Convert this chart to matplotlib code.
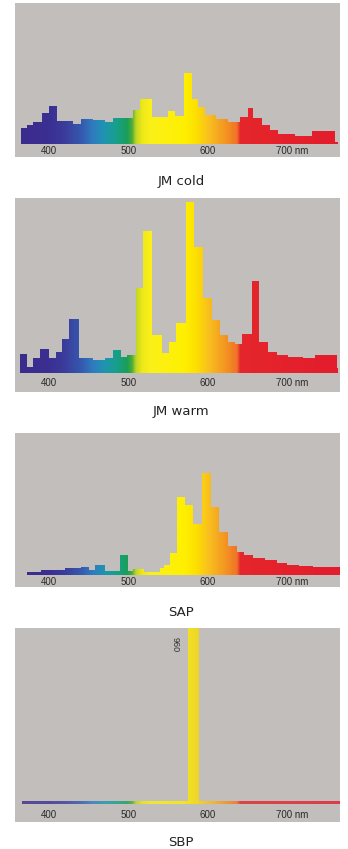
import numpy as np
import matplotlib
matplotlib.use('Agg')
import matplotlib.pyplot as plt
from matplotlib.colors import LinearSegmentedColormap

# spectra: bin edges (nm) and relative intensity per bin
cold_edges = [365, 372, 380, 391, 400, 410, 430, 440, 455, 470, 481, 506, 515, 530, 550, 559,
              570, 580, 588, 596, 610, 625, 640, 650, 657, 668, 678, 688, 709, 731, 760, 764]
cold_vals = [16, 19, 22, 31, 38, 23, 20, 25, 24, 22, 26, 34, 45, 27, 33, 28,
             71, 45, 37, 29, 25, 22, 27, 36, 26, 19, 14, 10, 8, 13, 2]

warm_edges = [364, 372, 380, 389, 400, 409, 416, 425, 438, 455, 470, 481, 491, 498, 509, 518, 530,
              542, 551, 560, 572, 582, 594, 605, 615, 625, 634, 643, 655, 664, 675, 687, 700,
              720, 735, 762, 764]
warm_vals = [19, 6, 15, 24, 15, 21, 34, 54, 15, 13, 15, 23, 16, 18, 85, 142,
             38, 20, 31, 50, 171, 126, 75, 53, 38, 31, 29, 39, 92, 31, 21, 18,
             16, 15, 18, 5]

sap_edges = [372, 390, 420, 440, 450, 458, 470, 489, 499, 506, 520, 540, 545, 552, 561, 571,
             581, 592, 604, 614, 625, 636, 645, 657, 672, 687, 699, 715, 732, 766]
sap_vals = [3, 5, 7, 8, 5, 10, 4, 20, 4, 6, 3, 7, 10, 22, 78,
            70, 51, 102, 68, 43, 29, 23, 20, 17, 15, 12, 10, 9, 8]

sbp_edges = [366, 575, 589, 766]
sbp_vals = [3, 250, 3]

titles = ['JM cold', 'JM warm', 'SAP', 'SBP']
tick_vals = [400, 500, 600, 700]
tick_labels = ['400', '500', '600', '700 nm']

# wavelength -> colour
anchors = [(360, '#3b2c8c'), (400, '#3a2f92'), (420, '#3b3d9c'), (440, '#3558ae'),
           (455, '#2f7cc0'), (470, '#1e95b0'), (485, '#17a08a'), (498, '#1a9e5a'),
           (504, '#45aa38'), (509, '#bcd424'), (517, '#eee81a'), (528, '#fbf018'),
           (570, '#fff000'), (585, '#fde000'), (600, '#f9c21e'), (620, '#f49a22'),
           (637, '#ef7326'), (641, '#e5262b'), (760, '#e31d2d'), (770, '#e31d2d')]
w0, w1 = 360, 770
cmap = LinearSegmentedColormap.from_list(
    'spec', [((w - w0) / (w1 - w0), c) for w, c in anchors])

bg = '#c1bebc'
fig = plt.figure(figsize=(3.48, 8.49), dpi=100)
fig.patch.set_facecolor('white')

# pixel boxes: (top, bottom) in figure px, baseline px
boxes = [(3, 157, 144), (198, 392, 373), (433, 587, 575), (628, 822, 804)]
title_y = [182, 412, 612, 843]
label_y = [151, 383, 582, 815]
data = [(cold_edges, cold_vals), (warm_edges, warm_vals),
        (sap_edges, sap_vals), (sbp_edges, sbp_vals)]

H = 849.0
for i, ((top, bot, base), (edges, vals)) in enumerate(zip(boxes, data)):
    ax = fig.add_axes([15 / 348, 1 - bot / H, 325 / 348, (bot - top) / H])
    ax.set_facecolor(bg)
    for s in ax.spines.values():
        s.set_visible(False)
    ax.set_xticks([])
    ax.set_yticks([])
    ylo, yhi = -(bot - base), base - top
    patch = ax.stairs(vals, edges, baseline=0, fill=True, color='none', lw=0)
    grad = np.linspace(w0, w1, 820)[None, :]
    im = ax.imshow(grad, extent=[w0, w1, 0, 300], aspect='auto', cmap=cmap,
                   vmin=w0, vmax=w1, origin='lower', interpolation='bilinear',
                   alpha=0.8 if i == 3 else 1.0)
    im.set_clip_path(patch)
    ax.set_xlim(357.2, 766.0)
    ax.set_ylim(ylo, yhi)
    for t, lab in zip(tick_vals, tick_labels):
        if lab.endswith('nm'):
            ax.text(t - 14, -(label_y[i] - base), lab, ha='left', va='center',
                    fontsize=7, color='#2a2a2a', family='Liberation Sans')
        else:
            ax.text(t, -(label_y[i] - base), lab, ha='center', va='center',
                    fontsize=7, color='#2a2a2a', family='Liberation Sans')
    if i == 3:
        ax.text(558, 804 - 645, '960', rotation=270, ha='center', va='center',
                fontsize=6.5, color='#333333', family='Liberation Sans')
    fig.text(181 / 348, 1 - title_y[i] / H, titles[i], ha='center', va='center',
             fontsize=9.5, color='#222222', family='DejaVu Sans')

fig.savefig('out.png', dpi=100, facecolor='white')
